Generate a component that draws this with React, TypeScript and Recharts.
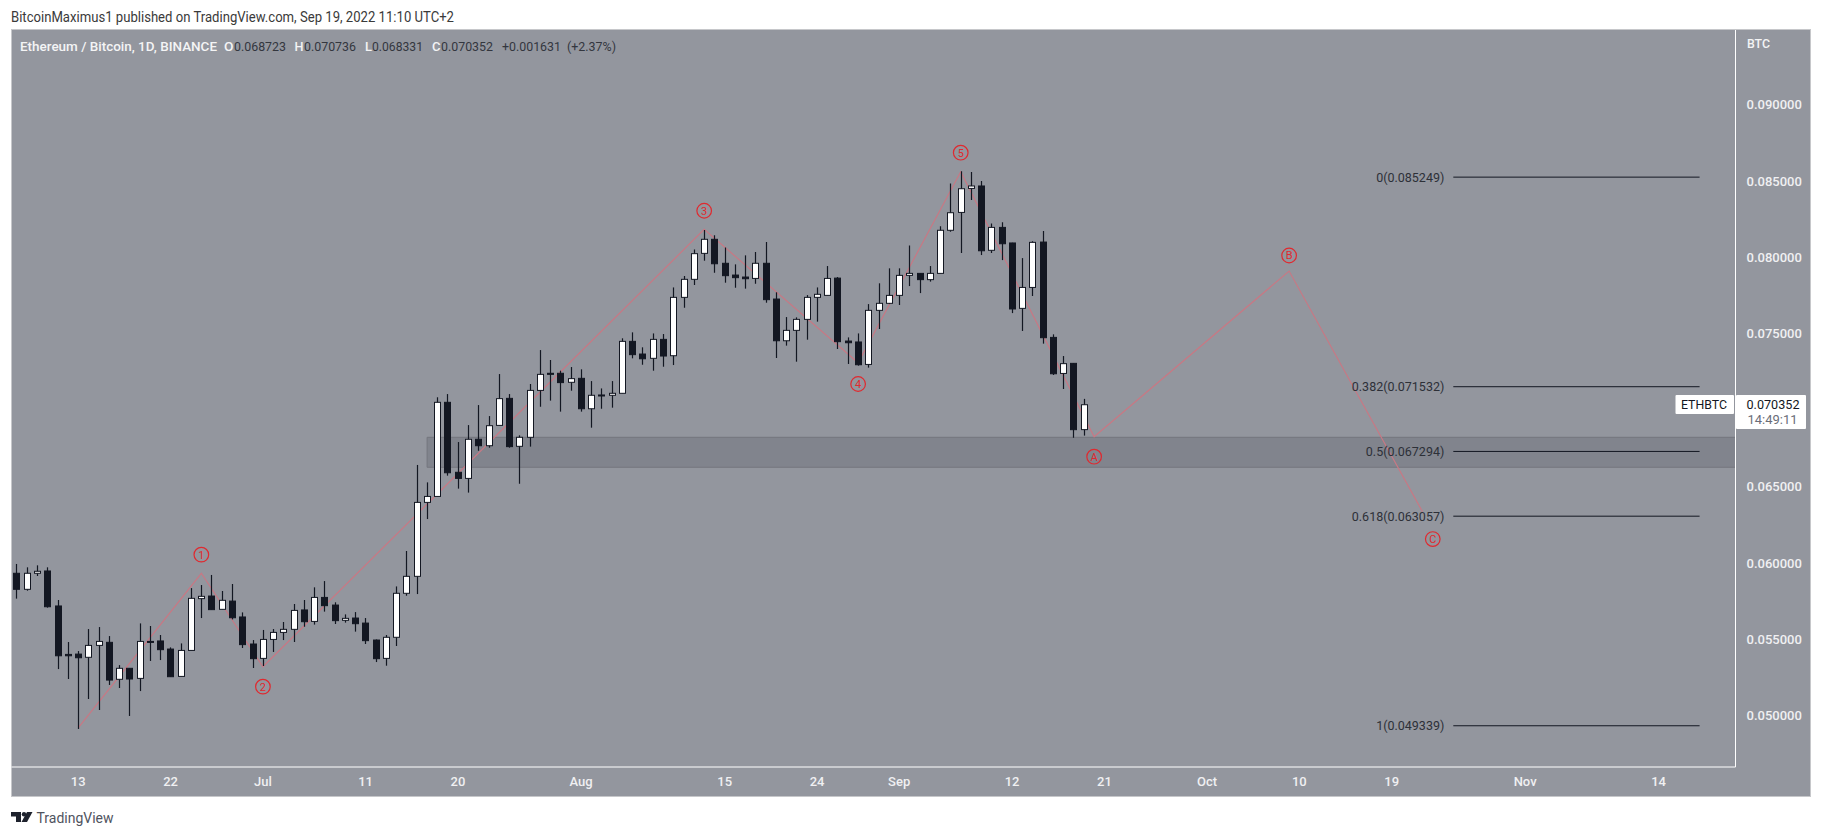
import React from "react";
import {
  ComposedChart,
  Bar,
  Line,
  XAxis,
  YAxis,
  ReferenceArea,
  ReferenceDot,
} from "recharts";

const opens = [
  0.05932, 0.05827, 0.05932, 0.05947, 0.05718, 0.05401, 0.05403, 0.05382, 0.0546, 0.0548,
  0.05238, 0.0531, 0.05244, 0.05486, 0.05489, 0.05436, 0.05257, 0.05427, 0.05766, 0.05783,
  0.05696, 0.0575, 0.05646, 0.05469, 0.05375, 0.05499, 0.05545, 0.05565, 0.05692, 0.05617,
  0.05774, 0.05724, 0.05624, 0.05639, 0.05606, 0.05495, 0.05375, 0.05513, 0.05801, 0.05912,
  0.06396, 0.06435, 0.07051, 0.06593, 0.06553, 0.06809, 0.06767, 0.069, 0.07077, 0.06763,
  0.06822, 0.07129, 0.07241, 0.07241, 0.07182, 0.07208, 0.07009, 0.07099, 0.07097, 0.0711,
  0.0745, 0.07367, 0.07339, 0.07463, 0.07356, 0.07738, 0.07856, 0.08026, 0.08118, 0.07961,
  0.07884, 0.07871, 0.07862, 0.07961, 0.07727, 0.07454, 0.07522, 0.07594, 0.07738, 0.07751,
  0.07864, 0.07452, 0.07446, 0.07299, 0.07653, 0.07699, 0.07751, 0.07882, 0.07895, 0.07854,
  0.07895, 0.08177, 0.08294, 0.08451, 0.08467, 0.08046, 0.08196, 0.08094, 0.07666, 0.07803,
  0.081, 0.07476, 0.0724, 0.07306, 0.068723,
];
const highs = [
  0.05993, 0.05971, 0.05984, 0.05971, 0.05757, 0.05482, 0.05423, 0.05567, 0.0558, 0.05521,
  0.05331, 0.0531, 0.05604, 0.05587, 0.05528, 0.05447, 0.05473, 0.05835, 0.05855, 0.05921,
  0.05816, 0.05862, 0.05676, 0.05495, 0.05561, 0.05567, 0.05613, 0.05731, 0.05757, 0.0584,
  0.05881, 0.05742, 0.05663, 0.05678, 0.05639, 0.05499, 0.05528, 0.05846, 0.06078, 0.06641,
  0.06527, 0.07084, 0.07105, 0.06791, 0.06902, 0.07033, 0.06961, 0.07236, 0.07105, 0.06835,
  0.07171, 0.07393, 0.07328, 0.07258, 0.07282, 0.07267, 0.0719, 0.07142, 0.0719, 0.0747,
  0.07509, 0.07411, 0.07502, 0.07498, 0.07803, 0.07878, 0.08052, 0.08179, 0.08144, 0.08065,
  0.07954, 0.08013, 0.08035, 0.081, 0.07771, 0.07609, 0.07607, 0.07753, 0.07803, 0.07943,
  0.07871, 0.07476, 0.07502, 0.07694, 0.0783, 0.07928, 0.07928, 0.08078, 0.07895, 0.07943,
  0.08203, 0.08484, 0.08563, 0.08558, 0.08499, 0.08222, 0.08229, 0.08096, 0.07995, 0.08105,
  0.08172, 0.07496, 0.07354, 0.07308, 0.070736,
];
const lows = [
  0.05766, 0.05818, 0.05914, 0.05707, 0.05305, 0.0524, 0.04913, 0.05109, 0.05037, 0.05201,
  0.05181, 0.04998, 0.05161, 0.05358, 0.05364, 0.05255, 0.05257, 0.05427, 0.05639, 0.05694,
  0.05696, 0.0563, 0.05443, 0.05312, 0.05325, 0.05417, 0.05495, 0.05482, 0.05582, 0.05596,
  0.05681, 0.056, 0.05609, 0.0555, 0.05469, 0.05351, 0.05327, 0.05456, 0.05785, 0.05796,
  0.06287, 0.06435, 0.06571, 0.06486, 0.0646, 0.06734, 0.06754, 0.069, 0.06754, 0.06518,
  0.06761, 0.07022, 0.07062, 0.0699, 0.07127, 0.0699, 0.06885, 0.07009, 0.07016, 0.0711,
  0.07339, 0.07297, 0.07258, 0.07284, 0.07295, 0.0767, 0.07819, 0.07978, 0.07899, 0.07834,
  0.07801, 0.07795, 0.07827, 0.07703, 0.07341, 0.07422, 0.07317, 0.07461, 0.07579, 0.07751,
  0.074, 0.07302, 0.07291, 0.07278, 0.07531, 0.07694, 0.07688, 0.07812, 0.07766, 0.07841,
  0.07895, 0.08168, 0.08028, 0.08375, 0.08015, 0.08028, 0.07982, 0.07635, 0.07518, 0.07747,
  0.07435, 0.0723, 0.07138, 0.06819, 0.068331,
];
const closes = [
  0.05827, 0.05932, 0.05945, 0.05713, 0.05392, 0.05392, 0.05379, 0.0546, 0.05486, 0.05233,
  0.0531, 0.0524, 0.05486, 0.05482, 0.05432, 0.05255, 0.05427, 0.05768, 0.05781, 0.05694,
  0.05755, 0.05641, 0.05465, 0.05373, 0.05499, 0.05545, 0.05565, 0.05689, 0.05615, 0.05774,
  0.0572, 0.05622, 0.05637, 0.05602, 0.05491, 0.05373, 0.05513, 0.05801, 0.05912, 0.06396,
  0.06435, 0.07051, 0.0659, 0.06553, 0.06809, 0.06767, 0.06898, 0.07075, 0.06761, 0.06822,
  0.07129, 0.07234, 0.07234, 0.0718, 0.07206, 0.07009, 0.07097, 0.07094, 0.0711, 0.0745,
  0.07363, 0.07336, 0.07463, 0.07354, 0.07738, 0.07856, 0.08024, 0.08118, 0.07958, 0.0788,
  0.07867, 0.0786, 0.07961, 0.07723, 0.07454, 0.07522, 0.07594, 0.07738, 0.07758, 0.07862,
  0.07448, 0.07441, 0.07297, 0.07653, 0.07699, 0.07751, 0.07882, 0.07895, 0.07854, 0.07895,
  0.08177, 0.08292, 0.08449, 0.08467, 0.08043, 0.08196, 0.08089, 0.07662, 0.07803, 0.08098,
  0.07474, 0.07238, 0.07304, 0.06872, 0.070352,
];

const dayCount = 168;
const tickDays = [6, 15, 24, 34, 43, 55, 69, 78, 86, 97, 106, 116, 125, 134, 147, 160];
const tickLabels = ["13", "22", "Jul", "11", "20", "Aug", "15", "24", "Sep", "12", "21", "Oct", "10", "19", "Nov", "14"];
const priceTicks = [0.05, 0.055, 0.06, 0.065, 0.075, 0.08, 0.085, 0.09];

const waveDays = [6, 18, 24, 67, 82, 92, 105, 124, 137];
const waveValues = [0.0492, 0.05932, 0.0532, 0.08183, 0.0731, 0.0856, 0.06826, 0.0791, 0.06335];

const markDays = [18, 24, 67, 82, 92, 105, 124, 138];
const markValues = [0.06054, 0.0519, 0.08305, 0.07171, 0.08685, 0.06695, 0.08012, 0.06156];
const markTexts = ["1", "2", "3", "4", "5", "A", "B", "C"];

const fibLevels = ["0", "0.382", "0.5", "0.618", "1"];
const fibPrices = [0.085249, 0.071532, 0.067294, 0.063057, 0.049339];
const fibStartDay = 140;
const fibEndDay = 164;

const zoneLow = 0.06626;
const zoneHigh = 0.06822;
const zoneStartDay = 40;

const rows = Array.from({ length: dayCount }, (_, i) => {
  const row: Record<string, number | undefined> = { i };
  if (i < opens.length) {
    row.open = opens[i];
    row.high = highs[i];
    row.low = lows[i];
    row.close = closes[i];
  }
  const w = waveDays.indexOf(i);
  if (w >= 0) row.wave = waveValues[w];
  if (i === fibStartDay || i === fibEndDay) {
    fibPrices.forEach((p, k) => {
      row["fib" + k] = p;
    });
  }
  return row;
});

const FONT = "Roboto, sans-serif";

function Candle(props: any) {
  const { x, y, width, height, payload } = props;
  if (!payload || payload.high == null || !height) return null;
  const { open, high, low, close } = payload;
  const perUnit = height / (high - low);
  const cx = Math.round(x + width / 2) + 0.5;
  const top = y + (high - Math.max(open, close)) * perUnit;
  const bottom = y + (high - Math.min(open, close)) * perUnit;
  const up = close >= open;
  return (
    <g>
      <line x1={cx} x2={cx} y1={y} y2={y + height} stroke="#131722" strokeWidth={1.2} />
      <rect
        x={cx - 3}
        y={top}
        width={6}
        height={Math.max(bottom - top, 1)}
        fill={up ? "#ffffff" : "#131722"}
        stroke="#131722"
        strokeWidth={1}
      />
    </g>
  );
}

function FibLabel(level: string, price: number) {
  return (props: any) => {
    if (props.index !== fibStartDay) return <g />;
    return (
      <text x={props.x - 9} y={props.y + 4.5} textAnchor="end" fontFamily={FONT} fontSize={12.5} fill="#2d3038">
        {`${level}(${price.toFixed(6)})`}
      </text>
    );
  };
}

function Mark(text: string) {
  return (props: any) => (
    <g>
      <circle cx={props.cx} cy={props.cy} r={7.3} fill="none" stroke="#e0292f" strokeWidth={1.2} />
      <text
        x={props.cx}
        y={props.cy + 3.9}
        textAnchor="middle"
        fontFamily={FONT}
        fontSize={11}
        fill="#e0292f"
      >
        {text}
      </text>
    </g>
  );
}

function T(p: { x: number; y: number; len: number; fill: string; size?: number; weight?: number; children: string }) {
  return (
    <text
      x={p.x}
      y={p.y}
      textLength={p.len}
      lengthAdjust="spacingAndGlyphs"
      fontFamily={FONT}
      fontSize={p.size ?? 13}
      fontWeight={p.weight ?? 400}
      fill={p.fill}
    >
      {p.children}
    </text>
  );
}

export default function App() {
  const white = "#f4f4f5";
  const dark = "#33363e";
  return (
    <div style={{ position: "absolute", left: 0, top: 0, width: 1825, height: 837, background: "#fff", overflow: "hidden" }}>
      <div
        style={{
          position: "absolute",
          left: 11,
          top: 29,
          width: 1800,
          height: 768,
          background: "#93969e",
          border: "1px solid #c6c7ca",
          boxSizing: "border-box",
        }}
      />
      <div style={{ position: "absolute", left: 0, top: 0 }}>
        <ComposedChart
          width={1825}
          height={837}
          data={rows}
          barCategoryGap={0}
          margin={{ top: 30, left: 11.5, right: 14.5, bottom: 40 }}
        >
          <XAxis
            dataKey="i"
            type="category"
            ticks={tickDays}
            interval={0}
            tickFormatter={(v: number) => tickLabels[tickDays.indexOf(v)] ?? ""}
            height={30}
            tickSize={0}
            tickMargin={10}
            axisLine={{ stroke: "#ffffff", strokeWidth: 1 }}
            tick={{ fill: "#f0f0f2", fontSize: 13, fontWeight: 500, fontFamily: FONT }}
          />
          <XAxis xAxisId="n" dataKey="i" type="number" domain={[-0.5, 167.5]} hide height={0} />
          <YAxis
            orientation="right"
            width={75}
            domain={[0.04664, 0.09488]}
            allowDataOverflow
            ticks={priceTicks}
            tickFormatter={(v: number) => v.toFixed(6)}
            tickSize={0}
            tickMargin={11}
            axisLine={{ stroke: "#ffffff", strokeWidth: 1 }}
            tick={{ fill: "#f0f0f2", fontSize: 13, fontWeight: 500, fontFamily: FONT }}
          />
          <ReferenceArea
            xAxisId="n"
            x1={zoneStartDay}
            y1={zoneLow}
            y2={zoneHigh}
            fill="#7e8189"
            fillOpacity={0.85}
            stroke="#74767e"
            strokeWidth={1}
          />
          <Line
            dataKey="wave"
            connectNulls
            dot={false}
            activeDot={false}
            stroke="#c87884"
            strokeWidth={1.2}
            zIndex={250}
            isAnimationActive={false}
          />
          <Bar
            dataKey={(d: any) => (d.high == null ? null : [d.low, d.high])}
            shape={Candle}
            isAnimationActive={false}
          />
          {fibPrices.map((p, k) => (
            <Line
              key={k}
              dataKey={"fib" + k}
              connectNulls
              dot={false}
              activeDot={false}
              stroke="#131722"
              strokeWidth={1}
              label={FibLabel(fibLevels[k], p)}
              isAnimationActive={false}
            />
          ))}
          {markDays.map((d, k) => (
            <ReferenceDot key={k} x={d} y={markValues[k]} r={7} shape={Mark(markTexts[k])} />
          ))}
        </ComposedChart>
      </div>
      <svg width={1825} height={837} style={{ position: "absolute", left: 0, top: 0, pointerEvents: "none" }}>
        <T x={11} y={21.5} len={443} fill="#3a3a3a" size={14}>
          BitcoinMaximus1 published on TradingView.com, Sep 19, 2022 11:10 UTC+2
        </T>
        <T x={20} y={51} len={197} fill={white} weight={500}>
          Ethereum / Bitcoin, 1D, BINANCE
        </T>
        <T x={224} y={51} len={9.5} fill={white} weight={500}>O</T>
        <T x={234} y={51} len={52} fill={dark}>0.068723</T>
        <T x={294.5} y={51} len={9} fill={white} weight={500}>H</T>
        <T x={304} y={51} len={52} fill={dark}>0.070736</T>
        <T x={365} y={51} len={7} fill={white} weight={500}>L</T>
        <T x={372} y={51} len={51} fill={dark}>0.068331</T>
        <T x={432} y={51} len={8.5} fill={white} weight={500}>C</T>
        <T x={441} y={51} len={52} fill={dark}>0.070352</T>
        <T x={502} y={51} len={59} fill={dark}>+0.001631</T>
        <T x={567} y={51} len={49} fill={dark}>(+2.37%)</T>
        <T x={1747} y={48} len={23} fill={white} size={12} weight={500}>BTC</T>

        <rect x={1675.5} y={395} width={58.5} height={19} fill="#ffffff" rx={1} />
        <rect x={1736} y={395} width={70} height={34} fill="#ffffff" rx={1} />
        <T x={1681} y={409} len={46} fill="#131722" size={12}>ETHBTC</T>
        <T x={1746.5} y={408.5} len={53} fill="#131722" size={12}>0.070352</T>
        <T x={1747.5} y={424} len={50} fill="#6a6d78" size={12}>14:49:11</T>

        <polygon points="11,812 21,812 21,822 16,822 16,816.5 11,816.5" fill="#1e222d" />
        <circle cx={24} cy={814.2} r={2.2} fill="#1e222d" />
        <polygon points="27,812 32.5,812 27,822 21.5,822" fill="#1e222d" />
        <T x={36.5} y={823} len={77} fill="#50535e" size={14}>TradingView</T>
      </svg>
    </div>
  );
}
